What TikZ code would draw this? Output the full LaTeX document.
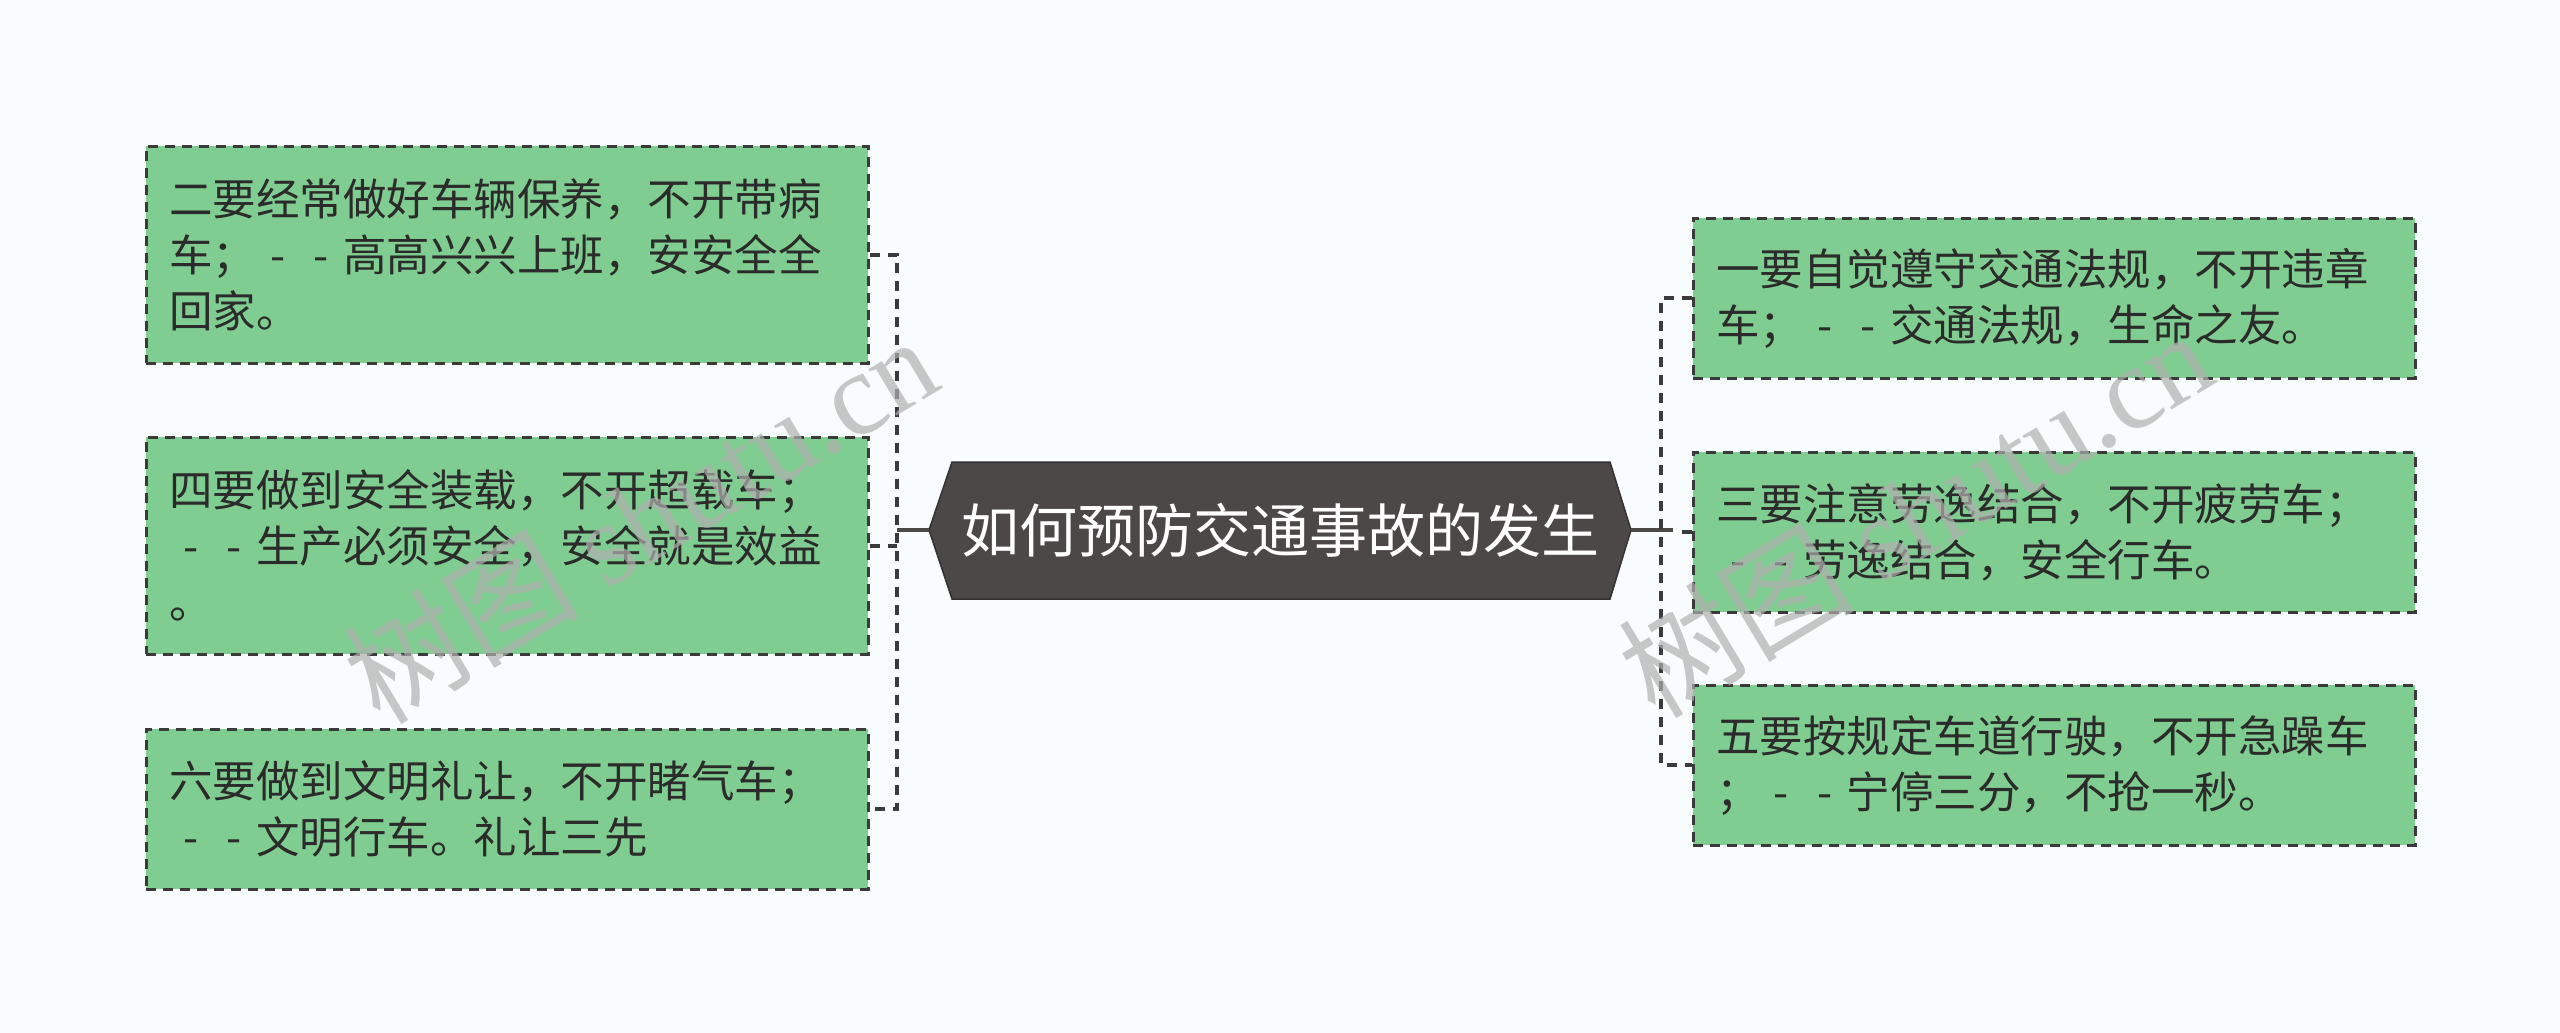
\documentclass[tikz,border=0pt]{standalone}
\usepackage{fontspec}
\setmainfont{Noto Sans CJK SC}
\newfontfamily\wmlatin{Liberation Serif}
\usetikzlibrary{calc}
\definecolor{bg}{HTML}{F8FCFD}
\definecolor{boxfill}{HTML}{80CD91}
\definecolor{boxline}{HTML}{3A3A3A}
\definecolor{hexfill}{HTML}{4D4848}
\definecolor{txt}{HTML}{2B2B2B}
\definecolor{wmgray}{HTML}{B0B0B0}
\newcommand\fh{\makebox[1em]{-}}
\begin{document}
\begin{tikzpicture}[x=1pt,y=-1pt,
  leaf/.style={draw=boxline, fill=boxfill, line width=2.5pt,
    dash pattern=on 10pt off 7pt, anchor=north west,
    minimum width=722pt, text width=676pt, inner xsep=23pt, inner ysep=0pt,
    align=left, font=\fontsize{43.5}{56}\selectfont, text=txt},
  conn/.style={draw=boxline, line width=4pt, dash pattern=on 10pt off 8pt},
  trunk/.style={draw=hexfill, line width=4pt},
  hexshape/.style={fill=hexfill, draw=black!80, line width=1.5pt},
  centertext/.style={minimum width=702pt, minimum height=137pt, inner sep=0pt,
    text=white, font=\fontsize{58}{70}\selectfont},
  wm/.style={text=wmgray, opacity=0.7, font=\fontsize{118}{130}\selectfont, inner sep=0pt}
]
\useasboundingbox (0,0) rectangle (2560,1033);
\fill[bg] (0,0) rectangle (2560,1033);

% central topic
\fill[hexshape] (929,530) -- (952,462) -- (1610,462) -- (1631,530) -- (1610,599) -- (952,599) -- cycle;
\node[centertext] (c) at (1280,530) {如何预防交通事故的发生};

% left leaves
\node[leaf, minimum height=217pt] (L1) at (145,145) {二要经常做好车辆保养，不开带病\\车；\fh\fh 高高兴兴上班，安安全全\\回家。};
\node[leaf, minimum height=217pt] (L2) at (145,436) {四要做到安全装载，不开超载车；\\\fh\fh 生产必须安全，安全就是效益\\。};
\node[leaf, minimum height=160pt] (L3) at (145,728) {六要做到文明礼让，不开睹气车；\\\fh\fh 文明行车。礼让三先};

% right leaves
\node[leaf, minimum height=160pt] (R1) at (1692,217) {一要自觉遵守交通法规，不开违章\\车；\fh\fh 交通法规，生命之友。};
\node[leaf, minimum height=160pt] (R2) at (1692,451) {三要注意劳逸结合，不开疲劳车；\\\fh\fh 劳逸结合，安全行车。};
\node[leaf, minimum height=160pt] (R3) at (1692,684) {五要按规定车道行驶，不开急躁车\\；\fh\fh 宁停三分，不抢一秒。};

% buses
\coordinate (lb) at (897,530);
\coordinate (rb) at (1661,530);

% left connectors
\draw[trunk] (c.west) -- (lb);
\draw[conn] (L1.east) -- (L1.east -| lb) -- (L3.east -| lb) -- (L3.east);
\draw[conn] (L2.east) -- (L2.east -| lb);

% right connectors
\draw[trunk] (c.east) -- ($(rb)+(12,0)$);
\draw[conn] (R1.west) -- (R1.west -| rb) -- (R3.west -| rb) -- (R3.west);
\draw[conn] (R2.west) -- ($(R2.west)+(-14,0)$);

% watermarks
\node[wm, rotate=31] (wm1) at (640,518) {树图 {\wmlatin shutu.cn}};
\node[wm, rotate=31] (wm2) at (1915,512) {树图 {\wmlatin shutu.cn}};
\end{tikzpicture}
\end{document}
